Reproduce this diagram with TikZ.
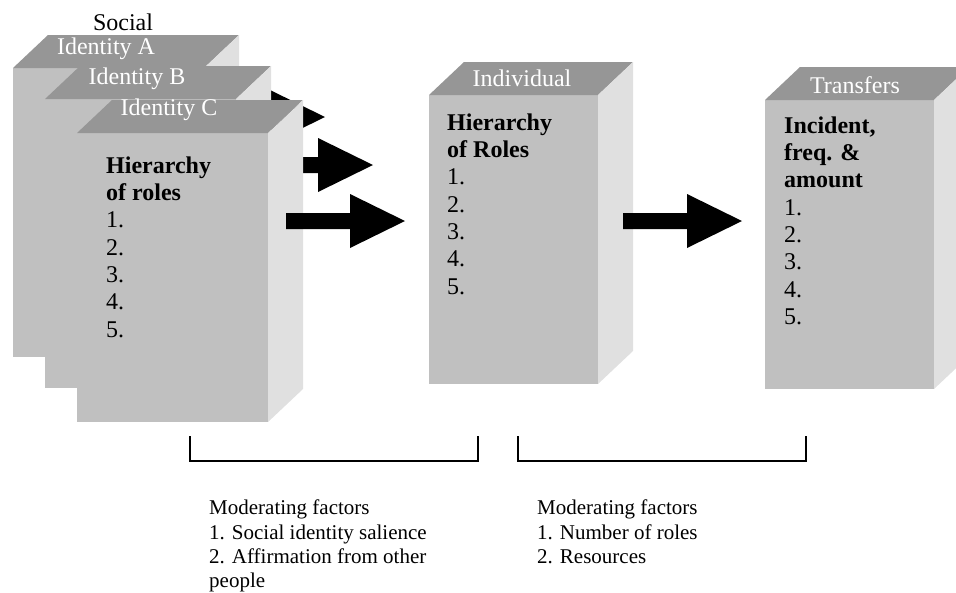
\documentclass[tikz,border=0pt]{standalone}
\usepackage{fontspec}
\setmainfont{Liberation Serif}
\definecolor{topgray}{RGB}{150,150,150}
\definecolor{frontgray}{RGB}{192,192,192}
\definecolor{sidegray}{RGB}{224,224,224}
% name, x, y (front top left), width
\newcommand{\cuboid}[4]{%
  \node[frontface, minimum width=#4pt, anchor=north west] (#1) at (#2,#3) {};
  \fill[topface] (#1.north west) -- ++(35,-33) -- ++(#4,0) -- (#1.north east) -- cycle;
  \fill[sideface] (#1.north east) -- ++(35,-33) -- ++(0,289) -- (#1.south east) -- cycle;
}
\begin{document}
\begin{tikzpicture}[
            x=1pt, y=-1pt,
            frontface/.style={rectangle, fill=frontgray, minimum height=289pt, inner sep=0pt, outer sep=0pt},
            topface/.style={fill=topgray},
            sideface/.style={fill=sidegray},
            facelabel/.style={text=white, font=\fontsize{24}{27}\selectfont},
            boxtext/.style={anchor=north west, inner sep=0pt, align=left, font=\fontsize{24}{27.3}\selectfont},
            notetext/.style={anchor=north west, inner sep=0pt, align=left, font=\fontsize{21}{24.3}\selectfont},
            bracket/.style={line width=1.8pt},
            fatarrow/.pic={\fill (0,-8) -- (64,-8) -- (64,-27) -- (119,0) -- (64,27) -- (64,8) -- (0,8) -- cycle;}
        ]
        \clip (0,0) rectangle (956,592);
        \useasboundingbox (0,0) rectangle (956,592);
        \coordinate (a1) at (206,117);
        \coordinate (a2) at (254,165);
        \coordinate (a3) at (286,221);
        \coordinate (a4) at (623,221);

        \node (social) at (123,22) {\fontsize{24}{27}\selectfont Social};
        \cuboid{idA}{13}{68}{191}
        \node[facelabel] (labA) at (106,49) {Identity A};
        \pic at (a1) {fatarrow};
        \cuboid{idB}{45}{99}{191}
        \node[facelabel] (labB) at (137,79) {Identity B};
        \pic at (a2) {fatarrow};
        \cuboid{idC}{77}{133}{191}
        \node[facelabel] (labC) at (169,110) {Identity C};
        \node[boxtext] (rolesC) at (106,156.5) {\textbf{Hierarchy}\\\textbf{of roles}\\1.\\2.\\3.\\4.\\5.};
        \pic at (a3) {fatarrow};

        \cuboid{indiv}{429}{95}{169}
        \node[facelabel] (labI) at (522,78) {Individual};
        \node[boxtext] (rolesI) at (447,113.5) {\textbf{Hierarchy}\\\textbf{of Roles}\\1.\\2.\\3.\\4.\\5.};
        \pic at (a4) {fatarrow};

        \cuboid{trans}{765}{100}{169}
        \node[facelabel] (labT) at (855,85) {Transfers};
        \node[boxtext] (amount) at (784,116.5) {\textbf{Incident,}\\\textbf{freq. \&}\\\textbf{amount}\\1.\\2.\\3.\\4.\\5.};

        \draw[bracket] (190,436) -- (190,461) -- (478,461) -- (478,436);
        \draw[bracket] (518,436) -- (518,461) -- (806,461) -- (806,436);
        \node[notetext] (modA) at (209,500) {Moderating factors\\1. Social identity salience\\2. Affirmation from other\\people};
        \node[notetext] (modB) at (537,500) {Moderating factors\\1. Number of roles\\2. Resources};
    \end{tikzpicture}
\end{document}
